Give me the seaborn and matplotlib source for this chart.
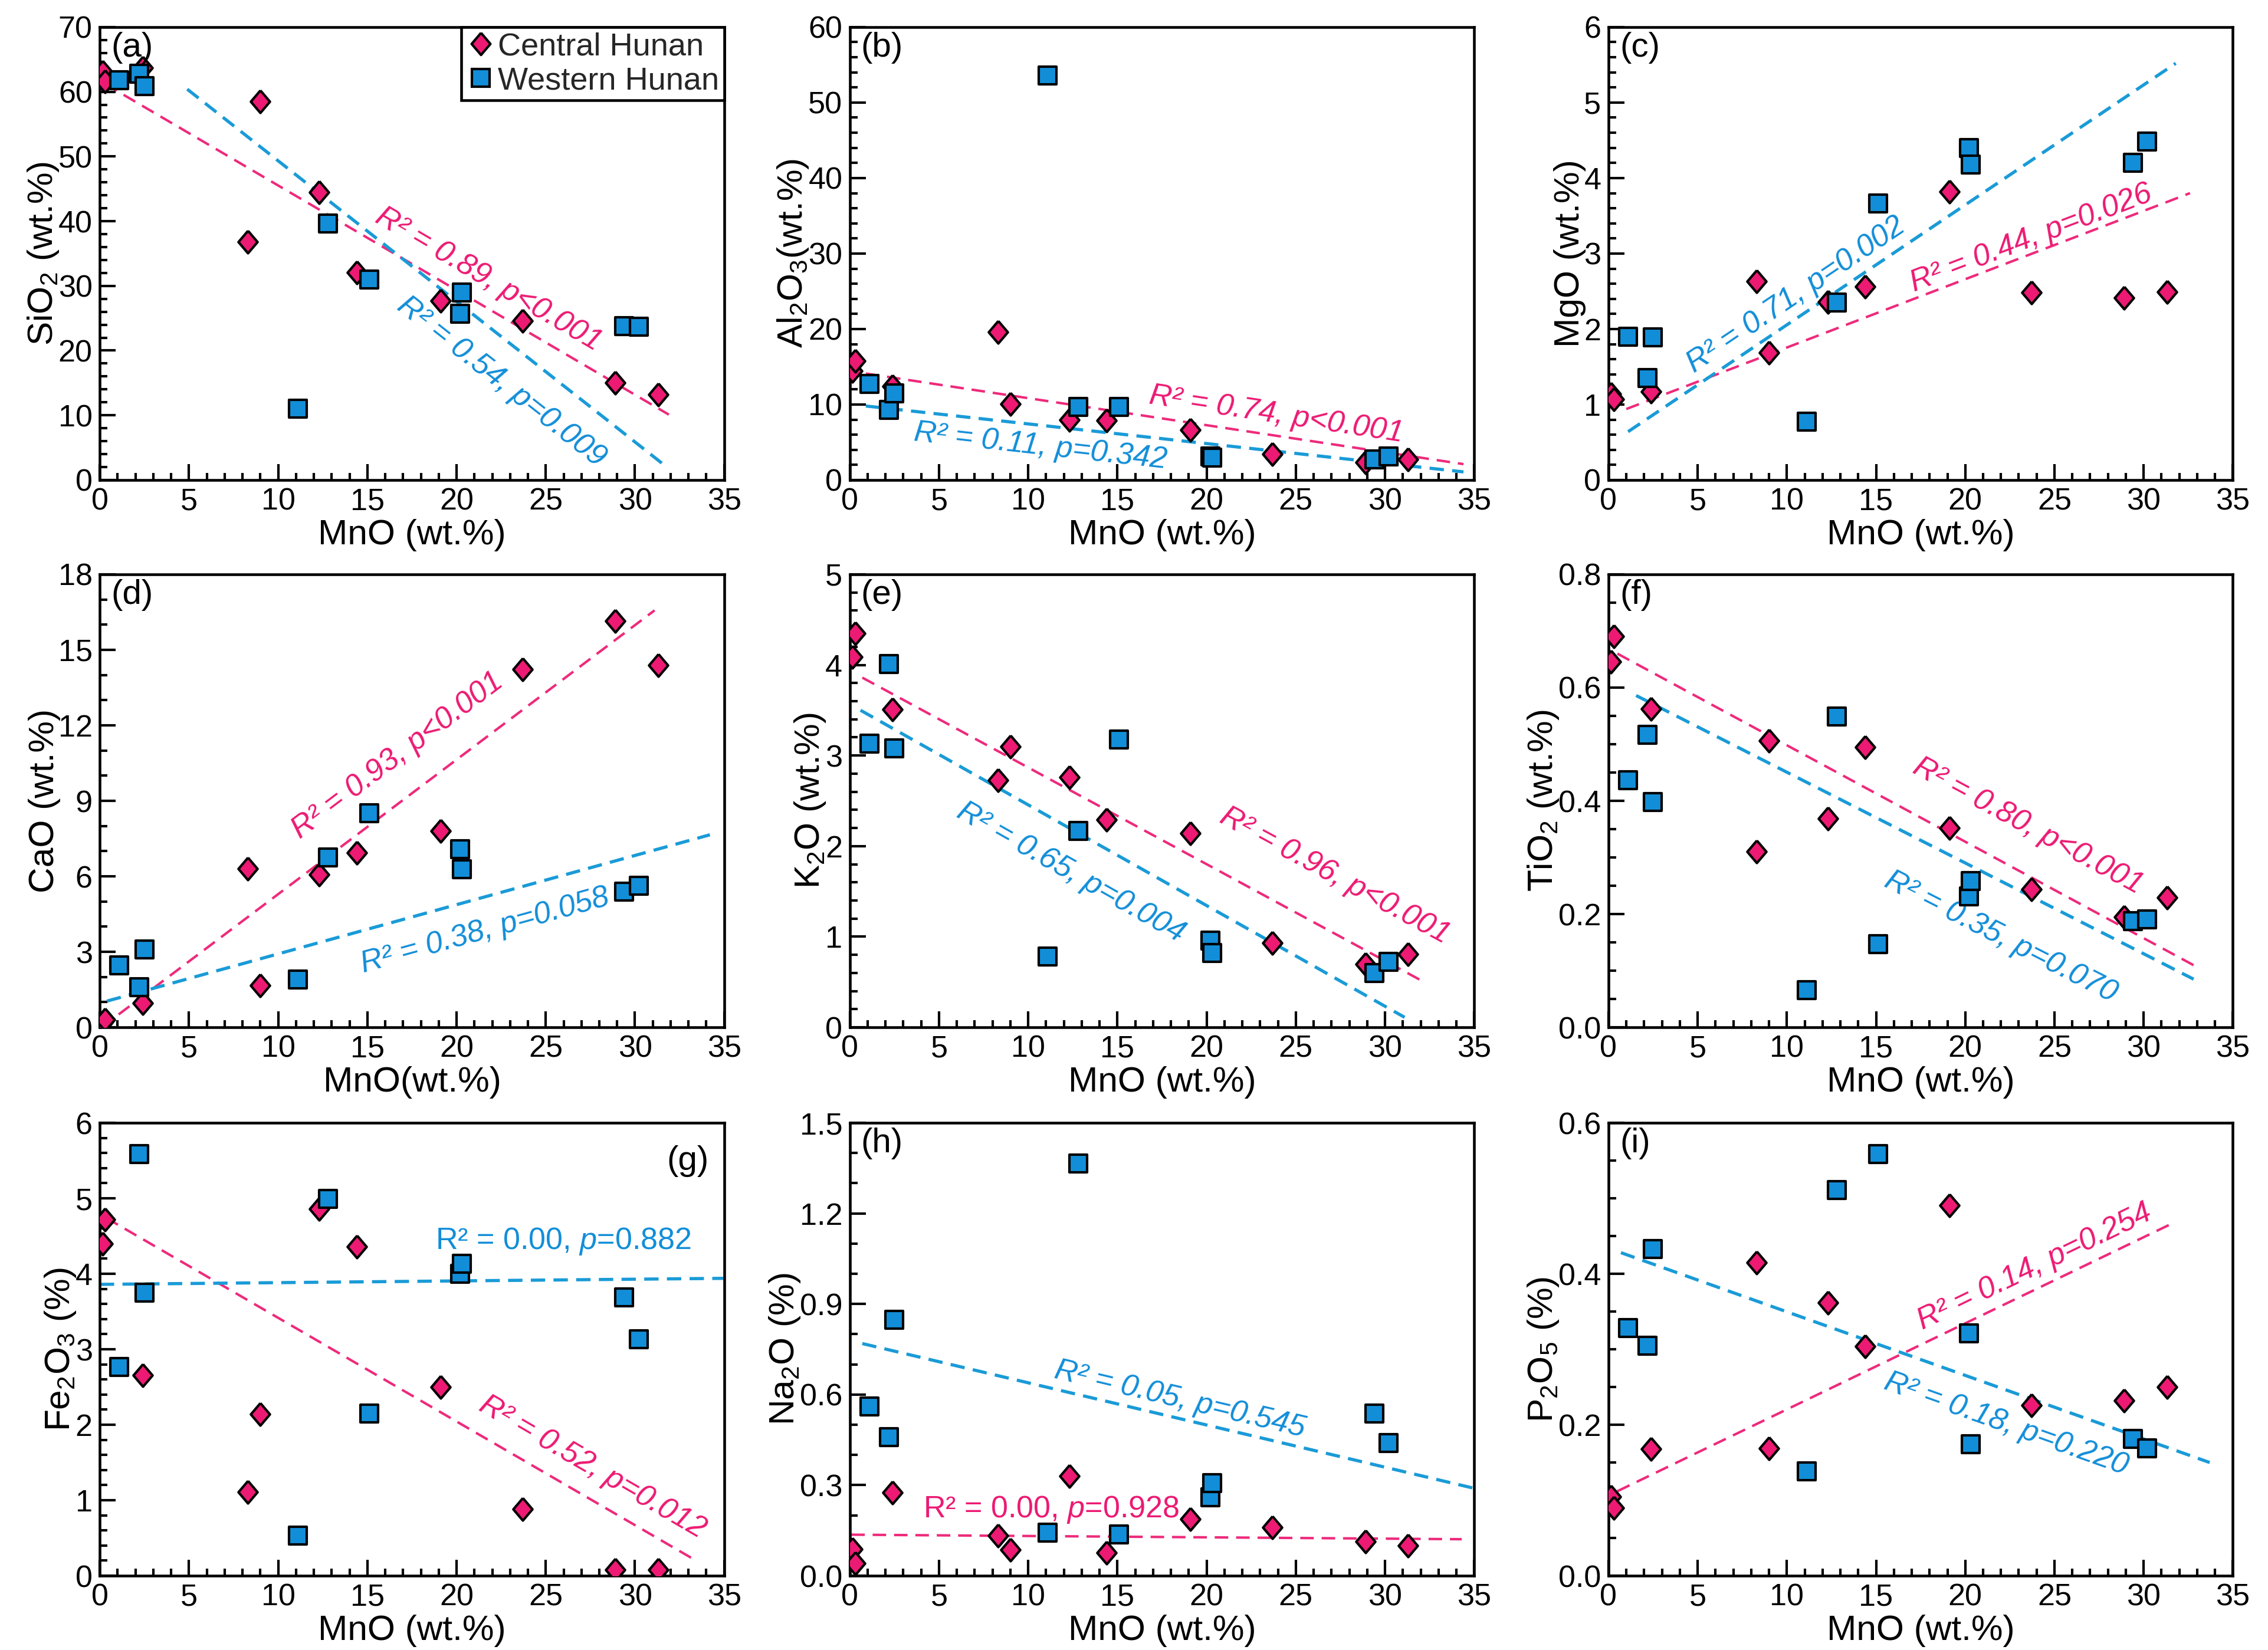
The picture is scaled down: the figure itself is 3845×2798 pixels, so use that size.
import numpy as np
import pandas as pd
import matplotlib
matplotlib.use("Agg")
import matplotlib.pyplot as plt
from matplotlib.ticker import MultipleLocator
from matplotlib.lines import Line2D
import seaborn as sns

sns.set_theme(style="ticks")
plt.rcParams["font.family"] = ["Liberation Sans", "DejaVu Sans"]
plt.rcParams["mathtext.fontset"] = "custom"
plt.rcParams["mathtext.rm"] = "Liberation Sans"
plt.rcParams["mathtext.it"] = "Liberation Sans:italic"
plt.rcParams["mathtext.default"] = "regular"

PINK = "#EC1A73"
BLUE = "#128ED8"
PINK_LINE = "#EE2A7B"
BLUE_LINE = "#1A9BD7"

# MnO (wt.%) of each sample
mno_central = [0.15, 0.3, 2.4, 8.3, 9.0, 12.3, 14.4, 19.1, 23.7, 28.9, 31.3]
mno_western = [1.1, 2.2, 2.5, 11.1, 12.8, 15.1, 20.2, 20.3, 29.4, 30.2]

# oxide contents, same sample order as above
sio2_c = [63.1, 61.6, 63.7, 36.8, 58.5, 44.5, 32.1, 27.7, 24.6, 15.0, 13.2]
sio2_w = [61.8, 62.8, 60.9, 11.0, 39.6, 31.0, 25.7, 29.0, 23.8, 23.7]
al2o3_c = [14.45, 15.8, 12.4, 19.6, 10.1, 8.0, 7.9, 6.6, 3.4, 2.3, 2.75]
al2o3_w = [12.7, 9.3, 11.5, 53.6, 9.65, 9.7, 3.1, 3.0, 2.75, 3.1]
mgo_c = [1.14, 1.07, 1.17, 2.63, 1.69, 2.36, 2.56, 3.82, 2.48, 2.41, 2.49]
mgo_w = [1.90, 1.35, 1.89, 0.77, 2.35, 3.66, 4.40, 4.18, 4.20, 4.48]
cao_c = [0.2, 0.3, 0.96, 6.3, 1.67, 6.08, 6.94, 7.8, 14.23, 16.14, 14.39]
cao_w = [2.45, 1.59, 3.1, 1.9, 6.75, 8.5, 7.08, 6.28, 5.39, 5.62]
k2o_c = [4.09, 4.35, 3.51, 2.73, 3.10, 2.76, 2.29, 2.14, 0.93, 0.70, 0.81]
k2o_w = [3.13, 4.01, 3.08, 0.78, 2.17, 3.18, 0.96, 0.82, 0.60, 0.72]
tio2_c = [0.646, 0.691, 0.563, 0.310, 0.506, 0.369, 0.495, 0.352, 0.244, 0.195, 0.229]
tio2_w = [0.436, 0.517, 0.398, 0.066, 0.549, 0.147, 0.231, 0.258, 0.188, 0.191]
fe2o3_c = [4.40, 4.72, 2.66, 1.11, 2.14, 4.86, 4.36, 2.50, 0.88, 0.08, 0.08]
fe2o3_w = [2.77, 5.59, 3.75, 0.53, 4.99, 2.15, 4.00, 4.13, 3.69, 3.13]
na2o_c = [0.088, 0.042, 0.275, 0.133, 0.087, 0.330, 0.076, 0.188, 0.161, 0.114, 0.099]
na2o_w = [0.560, 0.460, 0.848, 0.142, 1.366, 0.136, 0.260, 0.307, 0.538, 0.439]
p2o5_c = [0.105, 0.090, 0.168, 0.415, 0.169, 0.362, 0.304, 0.491, 0.226, 0.232, 0.250]
p2o5_w = [0.328, 0.305, 0.433, 0.138, 0.511, 0.559, 0.321, 0.174, 0.181, 0.169]

# regression lines as drawn (x range, y at both ends)
fit_c_x = [[0.3, 31.9], [0.9, 34.4], [1.0, 32.6], [0.1, 31.1], [0.7, 32.0],
           [0.5, 32.9], [0.36, 33.5], [0.08, 34.3], [0.5, 31.8]]
fit_c_y = [[61.2, 10.1], [14.1, 2.1], [0.94, 3.80], [0.0, 16.57], [3.86, 0.52],
           [0.66, 0.108], [4.74, 0.19], [0.136, 0.121], [0.112, 0.469]]
fit_w_x = [[4.9, 31.6], [0.9, 34.4], [1.1, 31.8], [0.4, 34.2], [0.6, 31.1],
           [1.55, 32.8], [0.0, 35.0], [0.7, 34.9], [0.7, 33.7]]
fit_w_y = [[60.4, 2.4], [9.8, 1.07], [0.64, 5.52], [1.04, 7.65], [3.50, 0.11],
           [0.586, 0.085], [3.86, 3.94], [0.769, 0.291], [0.428, 0.150]]

# statistics labels
stat_c = ["0.89, p<0.001", "0.74, p<0.001", "0.44, p=0.026", "0.93, p<0.001", "0.96, p<0.001",
          "0.80, p<0.001", "0.52, p=0.012", "0.00, p=0.928", "0.14, p=0.254"]
stat_w = ["0.54, p=0.009", "0.11, p=0.342", "0.71, p=0.002", "0.38, p=0.058", "0.65, p=0.004",
          "0.35, p=0.070", "0.00, p=0.882", "0.05, p=0.545", "0.18, p=0.220"]
stat_c_pos = [(21.8, 31.0), (23.9, 8.6), (23.7, 3.2), (16.7, 10.8), (27.2, 1.67),
              (23.5, 0.355), (27.6, 1.44), (11.3, 0.218), (23.9, 0.409)]
stat_w_pos = [(22.5, 15.2), (10.7, 4.4), (10.5, 2.45), (21.6, 3.83), (12.4, 1.71),
              (22.0, 0.160), (26.0, 4.43), (18.5, 0.584), (22.3, 0.201)]

panel_c = [sio2_c, al2o3_c, mgo_c, cao_c, k2o_c, tio2_c, fe2o3_c, na2o_c, p2o5_c]
panel_w = [sio2_w, al2o3_w, mgo_w, cao_w, k2o_w, tio2_w, fe2o3_w, na2o_w, p2o5_w]
letters = ["(a)", "(b)", "(c)", "(d)", "(e)", "(f)", "(g)", "(h)", "(i)"]
ylabels = [r"SiO$_2$ (wt.%)", r"Al$_2$O$_3$(wt.%)", "MgO (wt.%)", "CaO (wt.%)",
           r"K$_2$O (wt.%)", r"TiO$_2$ (wt.%)", r"Fe$_2$O$_3$ (%)", r"Na$_2$O (%)",
           r"P$_2$O$_5$ (%)"]
xlabels = ["MnO (wt.%)"] * 3 + ["MnO(wt.%)"] + ["MnO (wt.%)"] * 5
ymax = [70, 60, 6, 18, 5, 0.8, 6, 1.5, 0.6]
ymajor = [10, 10, 1, 3, 1, 0.2, 1, 0.3, 0.2]
yminor = [2, 2, 0.2, 1, 0.2, 0.05, 0.2, 0.1, 0.05]

diamond = [(0, 1), (0.85, 0), (0, -1), (-0.85, 0), (0, 1)]

fig = plt.figure(figsize=(3845 / 300, 2798 / 300), dpi=300)
col_left = [0.0440, 0.3747, 0.7092]
row_bottom = [0.7091, 0.3774, 0.0450]
w, h = 0.2753, 0.2745

for i in range(9):
    ax = fig.add_axes([col_left[i % 3], row_bottom[i // 3], w, h])

    # trend lines
    sns.lineplot(x=fit_c_x[i], y=fit_c_y[i], ax=ax, color=PINK_LINE, lw=1.0,
                 linestyle=(0, (5.5, 3.2)), zorder=2)
    sns.lineplot(x=fit_w_x[i], y=fit_w_y[i], ax=ax, color=BLUE_LINE, lw=1.3,
                 linestyle=(0, (4.5, 2.6)), zorder=2)

    dc = pd.DataFrame({"MnO": mno_central, "val": panel_c[i]})
    dw = pd.DataFrame({"MnO": mno_western, "val": panel_w[i]})
    sns.scatterplot(data=dc, x="MnO", y="val", ax=ax, marker=diamond, s=84,
                    color=PINK, edgecolor="black", linewidth=1.0, zorder=3)
    sns.scatterplot(data=dw, x="MnO", y="val", ax=ax, marker="s", s=52,
                    color=BLUE, edgecolor="black", linewidth=1.0, zorder=4)

    ax.set_xlim(0, 35)
    ax.set_ylim(0, ymax[i])
    ax.xaxis.set_major_locator(MultipleLocator(5))
    ax.xaxis.set_minor_locator(MultipleLocator(1))
    ax.yaxis.set_major_locator(MultipleLocator(ymajor[i]))
    ax.yaxis.set_minor_locator(MultipleLocator(yminor[i]))
    ax.tick_params(which="both", direction="in", top=False, right=False,
                   colors="black", labelsize=12.5, width=1.0, pad=3)
    ax.tick_params(which="major", length=6.5)
    ax.tick_params(which="minor", length=3)
    for sp in ax.spines.values():
        sp.set_color("black")
        sp.set_linewidth(1.1)

    ax.set_xlabel(xlabels[i], fontsize=14.5, labelpad=1, color="black")
    ax.set_ylabel(ylabels[i], fontsize=14.5, labelpad=-1, color="black")

    if i == 6:
        ax.text(0.975, 0.95, letters[i], transform=ax.transAxes, ha="right",
                va="top", fontsize=14, color="black")
    else:
        ax.text(0.018, 0.99, letters[i], transform=ax.transAxes, ha="left",
                va="top", fontsize=14, color="black")

    # statistics text, rotated along its line
    for fx, fy, txt, pos, col in [(fit_c_x[i], fit_c_y[i], stat_c[i], stat_c_pos[i], PINK),
                                  (fit_w_x[i], fit_w_y[i], stat_w[i], stat_w_pos[i], BLUE)]:
        ang = np.degrees(np.arctan2(fy[1] - fy[0], fx[1] - fx[0]))
        flat = abs(fy[1] - fy[0]) / ymax[i] < 0.05
        if flat:
            r2, pv = txt.split(", p")
            label = "R² = " + r2 + r", $\mathit{p}$" + pv
            ax.text(pos[0], pos[1], label, color=col, fontsize=12.5, ha="center",
                    va="center")
        else:
            ax.text(pos[0], pos[1], "R² = " + txt, color=col, fontsize=12.5,
                    style="italic", ha="center", va="center", rotation=ang,
                    rotation_mode="anchor", transform_rotates_text=True)

    if i == 0:
        handles = [Line2D([], [], marker=diamond, ls="", ms=9, mfc=PINK, mec="black",
                          mew=1.0, label="Central Hunan"),
                   Line2D([], [], marker="s", ls="", ms=7.2, mfc=BLUE, mec="black",
                          mew=1.0, label="Western Hunan")]
        leg = ax.legend(handles=handles, loc="upper right", borderaxespad=0,
                        fontsize=13, frameon=True, fancybox=False, handletextpad=0.1,
                        handlelength=0.9, borderpad=0.15, labelspacing=0.15)
        leg.get_frame().set_edgecolor("black")
        leg.get_frame().set_linewidth(1.1)
        leg.get_frame().set_alpha(1)

fig.savefig("out.png", dpi=300)
